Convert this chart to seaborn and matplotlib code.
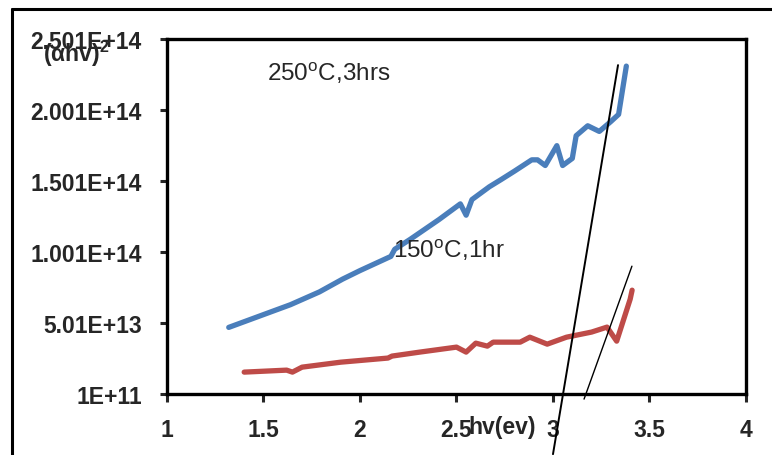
import numpy as np
import pandas as pd
import matplotlib
matplotlib.use("Agg")
import matplotlib.pyplot as plt
from matplotlib.lines import Line2D
import seaborn as sns

# --- data ---
hv_250 = [1.32, 1.40, 1.50, 1.64, 1.79, 1.91, 2.00, 2.16, 2.18, 2.26, 2.41, 2.47,
          2.52, 2.55, 2.58, 2.67, 2.73, 2.80, 2.89, 2.92, 2.96, 3.02, 3.05, 3.10,
          3.12, 3.18, 3.24, 3.30, 3.34, 3.38]
ahv_250 = [4.7, 5.1, 5.6, 6.3, 7.2, 8.1, 8.7, 9.7, 10.2, 10.9, 12.3, 12.9,
           13.4, 12.6, 13.7, 14.6, 15.1, 15.7, 16.5, 16.5, 16.1, 17.5, 16.1, 16.6,
           18.2, 18.9, 18.5, 19.2, 19.7, 23.1]

hv_150 = [1.40, 1.62, 1.65, 1.70, 1.90, 2.145, 2.166, 2.31, 2.50, 2.55, 2.60,
          2.66, 2.69, 2.83, 2.88, 2.97, 3.07, 3.20, 3.28, 3.33, 3.40, 3.41]
ahv_150 = [1.55, 1.69, 1.55, 1.90, 2.25, 2.54, 2.68, 2.96, 3.31, 2.96, 3.59,
           3.38, 3.66, 3.66, 4.01, 3.52, 4.01, 4.37, 4.72, 3.73, 6.69, 7.32]

# tangent (extrapolation) lines, endpoints
tan1_x = [3.337, 3.00]
tan1_y = [23.17, -4.23]
tan2_x = [3.409, 3.161]
tan2_y = [9.01, -0.35]

x_ticks = [1, 1.5, 2, 2.5, 3, 3.5, 4]
x_labels = ["1", "1.5", "2", "2.5", "3", "3.5", "4"]
y_ticks = [1e11, 5.01e13, 1.001e14, 1.501e14, 2.001e14, 2.501e14]
y_labels = ["1E+11", "5.01E+13", "1.001E+14", "1.501E+14", "2.001E+14", "2.501E+14"]

sns.set_style("white")
plt.rcParams["font.family"] = ["Liberation Sans", "DejaVu Sans"]
plt.rcParams["mathtext.fontset"] = "custom"
plt.rcParams["mathtext.rm"] = "Liberation Sans"
plt.rcParams["mathtext.bf"] = "Liberation Sans:bold"

df = pd.concat([
    pd.DataFrame({"hv": hv_250, "ahv": np.array(ahv_250) * 1e13, "s": "250"}),
    pd.DataFrame({"hv": hv_150, "ahv": np.array(ahv_150) * 1e13, "s": "150"}),
])

fig = plt.figure(figsize=(7.72, 4.56), dpi=100)
ax = fig.add_axes([0.2163, 0.1338, 0.75, 0.7785])

sns.lineplot(data=df, x="hv", y="ahv", hue="s", sort=False,
             palette={"250": "#4A7EBB", "150": "#BE4B48"},
             linewidth=3.8, legend=False, ax=ax)

ax.plot(tan1_x, np.array(tan1_y) * 1e13, color="black", lw=1.4, clip_on=False)
ax.plot(tan2_x, np.array(tan2_y) * 1e13, color="black", lw=1.0, clip_on=False)

ax.set_xlim(1, 4)
ax.set_ylim(1e11, 2.501e14)
ax.set_xticks(x_ticks)
ax.set_xticklabels(x_labels, fontsize=16.5, fontweight="bold")
ax.set_yticks(y_ticks)
ax.set_yticklabels(y_labels, fontsize=16.5, fontweight="bold")
ax.set_xlabel("")
ax.set_ylabel("")
ax.tick_params(axis="x", direction="out", length=6, width=2.2, pad=11, bottom=True)
ax.tick_params(axis="y", direction="out", length=5, width=2.2, pad=13, left=True)
for sp in ax.spines.values():
    sp.set_linewidth(2.4)
    sp.set_color("black")

ax.text(1.52, 2.27e14, r"250$^{\rm o}$C,3hrs", fontsize=17.5, va="center")
ax.text(2.17, 1.02e14, r"150$^{\rm o}$C,1hr", fontsize=17.5, va="center")

fig.text(0.056, 0.882, r"(αhv)$^{\bf 2}$", fontsize=16.5, fontweight="bold", va="center")
fig.text(0.607, 0.062, "hv(ev)", fontsize=16.5, fontweight="bold", va="center")

# outer chart frame
fig.add_artist(Line2D([0.0155, 0.0155], [0.0, 0.978], color="black", lw=2.2))
fig.add_artist(Line2D([0.0155, 1.0], [0.978, 0.978], color="black", lw=2.2))

fig.savefig("out.png", dpi=100)
